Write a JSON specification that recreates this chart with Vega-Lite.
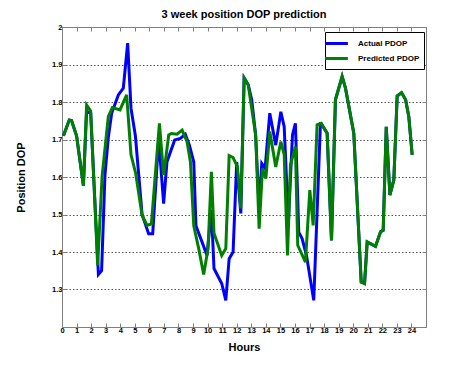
{
  "$schema": "https://vega.github.io/schema/vega-lite/v6.json",
  "autosize": "none",
  "width": 364,
  "height": 300,
  "padding": {"left": 62, "top": 27, "right": 49, "bottom": 41},
  "background": "white",
  "title": {"text": "3 week position DOP prediction", "font": "Liberation Sans", "fontSize": 11, "fontWeight": "bold", "color": "#000", "offset": 3, "anchor": "middle"},
  "config": {
    "view": {"stroke": "#808080", "strokeWidth": 1},
    "font": "Liberation Sans"
  },
  "data": {"values": [
    {"h":0.1,"v":1.71,"s":"Actual PDOP"},{"h":0.5,"v":1.752,"s":"Actual PDOP"},{"h":0.66,"v":1.75,"s":"Actual PDOP"},{"h":1.0,"v":1.71,"s":"Actual PDOP"},{"h":1.47,"v":1.577,"s":"Actual PDOP"},{"h":1.69,"v":1.775,"s":"Actual PDOP"},{"h":1.97,"v":1.77,"s":"Actual PDOP"},{"h":2.5,"v":1.34,"s":"Actual PDOP"},{"h":2.72,"v":1.35,"s":"Actual PDOP"},{"h":2.95,"v":1.605,"s":"Actual PDOP"},{"h":3.18,"v":1.705,"s":"Actual PDOP"},{"h":3.41,"v":1.77,"s":"Actual PDOP"},{"h":3.87,"v":1.819,"s":"Actual PDOP"},{"h":4.21,"v":1.837,"s":"Actual PDOP"},{"h":4.51,"v":1.957,"s":"Actual PDOP"},{"h":4.74,"v":1.783,"s":"Actual PDOP"},{"h":5.04,"v":1.71,"s":"Actual PDOP"},{"h":5.5,"v":1.5,"s":"Actual PDOP"},{"h":5.95,"v":1.449,"s":"Actual PDOP"},{"h":6.23,"v":1.449,"s":"Actual PDOP"},{"h":6.64,"v":1.703,"s":"Actual PDOP"},{"h":6.98,"v":1.529,"s":"Actual PDOP"},{"h":7.21,"v":1.641,"s":"Actual PDOP"},{"h":7.74,"v":1.699,"s":"Actual PDOP"},{"h":8.13,"v":1.703,"s":"Actual PDOP"},{"h":8.47,"v":1.714,"s":"Actual PDOP"},{"h":8.75,"v":1.685,"s":"Actual PDOP"},{"h":9.05,"v":1.64,"s":"Actual PDOP"},{"h":9.2,"v":1.47,"s":"Actual PDOP"},{"h":9.96,"v":1.391,"s":"Actual PDOP"},{"h":10.26,"v":1.512,"s":"Actual PDOP"},{"h":10.44,"v":1.356,"s":"Actual PDOP"},{"h":10.97,"v":1.316,"s":"Actual PDOP"},{"h":11.25,"v":1.271,"s":"Actual PDOP"},{"h":11.48,"v":1.382,"s":"Actual PDOP"},{"h":11.75,"v":1.4,"s":"Actual PDOP"},{"h":12.0,"v":1.64,"s":"Actual PDOP"},{"h":12.28,"v":1.503,"s":"Actual PDOP"},{"h":12.51,"v":1.864,"s":"Actual PDOP"},{"h":12.79,"v":1.846,"s":"Actual PDOP"},{"h":13.03,"v":1.806,"s":"Actual PDOP"},{"h":13.3,"v":1.712,"s":"Actual PDOP"},{"h":13.54,"v":1.516,"s":"Actual PDOP"},{"h":13.72,"v":1.636,"s":"Actual PDOP"},{"h":13.95,"v":1.623,"s":"Actual PDOP"},{"h":14.27,"v":1.77,"s":"Actual PDOP"},{"h":14.68,"v":1.685,"s":"Actual PDOP"},{"h":15.03,"v":1.774,"s":"Actual PDOP"},{"h":15.26,"v":1.734,"s":"Actual PDOP"},{"h":15.55,"v":1.48,"s":"Actual PDOP"},{"h":15.83,"v":1.712,"s":"Actual PDOP"},{"h":16.03,"v":1.743,"s":"Actual PDOP"},{"h":16.26,"v":1.453,"s":"Actual PDOP"},{"h":16.49,"v":1.436,"s":"Actual PDOP"},{"h":16.79,"v":1.391,"s":"Actual PDOP"},{"h":17.29,"v":1.271,"s":"Actual PDOP"},{"h":17.75,"v":1.743,"s":"Actual PDOP"},{"h":17.8,"v":1.743,"s":"Actual PDOP"},{"h":18.21,"v":1.717,"s":"Actual PDOP"},{"h":18.51,"v":1.431,"s":"Actual PDOP"},{"h":18.78,"v":1.806,"s":"Actual PDOP"},{"h":19.24,"v":1.868,"s":"Actual PDOP"},{"h":19.47,"v":1.837,"s":"Actual PDOP"},{"h":20.04,"v":1.717,"s":"Actual PDOP"},{"h":20.55,"v":1.32,"s":"Actual PDOP"},{"h":20.78,"v":1.316,"s":"Actual PDOP"},{"h":20.96,"v":1.427,"s":"Actual PDOP"},{"h":21.53,"v":1.415,"s":"Actual PDOP"},{"h":21.88,"v":1.454,"s":"Actual PDOP"},{"h":22.06,"v":1.458,"s":"Actual PDOP"},{"h":22.27,"v":1.734,"s":"Actual PDOP"},{"h":22.52,"v":1.552,"s":"Actual PDOP"},{"h":22.79,"v":1.592,"s":"Actual PDOP"},{"h":23.02,"v":1.816,"s":"Actual PDOP"},{"h":23.32,"v":1.825,"s":"Actual PDOP"},{"h":23.6,"v":1.806,"s":"Actual PDOP"},{"h":23.82,"v":1.761,"s":"Actual PDOP"},{"h":24.05,"v":1.659,"s":"Actual PDOP"},
    {"h":0.1,"v":1.71,"s":"Predicted PDOP"},{"h":0.5,"v":1.752,"s":"Predicted PDOP"},{"h":0.66,"v":1.75,"s":"Predicted PDOP"},{"h":1.0,"v":1.71,"s":"Predicted PDOP"},{"h":1.47,"v":1.577,"s":"Predicted PDOP"},{"h":1.69,"v":1.792,"s":"Predicted PDOP"},{"h":1.97,"v":1.776,"s":"Predicted PDOP"},{"h":2.45,"v":1.364,"s":"Predicted PDOP"},{"h":2.75,"v":1.6,"s":"Predicted PDOP"},{"h":3.18,"v":1.761,"s":"Predicted PDOP"},{"h":3.46,"v":1.785,"s":"Predicted PDOP"},{"h":3.98,"v":1.779,"s":"Predicted PDOP"},{"h":4.44,"v":1.819,"s":"Predicted PDOP"},{"h":4.74,"v":1.659,"s":"Predicted PDOP"},{"h":5.06,"v":1.61,"s":"Predicted PDOP"},{"h":5.5,"v":1.498,"s":"Predicted PDOP"},{"h":5.84,"v":1.471,"s":"Predicted PDOP"},{"h":6.14,"v":1.475,"s":"Predicted PDOP"},{"h":6.69,"v":1.743,"s":"Predicted PDOP"},{"h":6.98,"v":1.605,"s":"Predicted PDOP"},{"h":7.33,"v":1.712,"s":"Predicted PDOP"},{"h":7.51,"v":1.716,"s":"Predicted PDOP"},{"h":7.9,"v":1.714,"s":"Predicted PDOP"},{"h":8.25,"v":1.725,"s":"Predicted PDOP"},{"h":8.59,"v":1.694,"s":"Predicted PDOP"},{"h":8.82,"v":1.64,"s":"Predicted PDOP"},{"h":9.05,"v":1.47,"s":"Predicted PDOP"},{"h":9.39,"v":1.409,"s":"Predicted PDOP"},{"h":9.73,"v":1.34,"s":"Predicted PDOP"},{"h":10.03,"v":1.409,"s":"Predicted PDOP"},{"h":10.26,"v":1.614,"s":"Predicted PDOP"},{"h":10.44,"v":1.45,"s":"Predicted PDOP"},{"h":10.97,"v":1.391,"s":"Predicted PDOP"},{"h":11.25,"v":1.409,"s":"Predicted PDOP"},{"h":11.48,"v":1.657,"s":"Predicted PDOP"},{"h":11.75,"v":1.652,"s":"Predicted PDOP"},{"h":12.05,"v":1.627,"s":"Predicted PDOP"},{"h":12.28,"v":1.516,"s":"Predicted PDOP"},{"h":12.51,"v":1.864,"s":"Predicted PDOP"},{"h":12.79,"v":1.846,"s":"Predicted PDOP"},{"h":13.3,"v":1.712,"s":"Predicted PDOP"},{"h":13.54,"v":1.462,"s":"Predicted PDOP"},{"h":13.77,"v":1.623,"s":"Predicted PDOP"},{"h":14.0,"v":1.596,"s":"Predicted PDOP"},{"h":14.27,"v":1.721,"s":"Predicted PDOP"},{"h":14.68,"v":1.627,"s":"Predicted PDOP"},{"h":15.03,"v":1.694,"s":"Predicted PDOP"},{"h":15.26,"v":1.66,"s":"Predicted PDOP"},{"h":15.49,"v":1.391,"s":"Predicted PDOP"},{"h":15.69,"v":1.632,"s":"Predicted PDOP"},{"h":16.03,"v":1.681,"s":"Predicted PDOP"},{"h":16.19,"v":1.418,"s":"Predicted PDOP"},{"h":16.72,"v":1.373,"s":"Predicted PDOP"},{"h":17.02,"v":1.565,"s":"Predicted PDOP"},{"h":17.25,"v":1.471,"s":"Predicted PDOP"},{"h":17.52,"v":1.739,"s":"Predicted PDOP"},{"h":17.8,"v":1.743,"s":"Predicted PDOP"},{"h":18.21,"v":1.717,"s":"Predicted PDOP"},{"h":18.51,"v":1.431,"s":"Predicted PDOP"},{"h":18.78,"v":1.806,"s":"Predicted PDOP"},{"h":19.24,"v":1.868,"s":"Predicted PDOP"},{"h":19.47,"v":1.837,"s":"Predicted PDOP"},{"h":20.04,"v":1.717,"s":"Predicted PDOP"},{"h":20.55,"v":1.32,"s":"Predicted PDOP"},{"h":20.78,"v":1.316,"s":"Predicted PDOP"},{"h":20.96,"v":1.427,"s":"Predicted PDOP"},{"h":21.53,"v":1.415,"s":"Predicted PDOP"},{"h":21.88,"v":1.454,"s":"Predicted PDOP"},{"h":22.06,"v":1.458,"s":"Predicted PDOP"},{"h":22.27,"v":1.734,"s":"Predicted PDOP"},{"h":22.52,"v":1.552,"s":"Predicted PDOP"},{"h":22.79,"v":1.592,"s":"Predicted PDOP"},{"h":23.02,"v":1.816,"s":"Predicted PDOP"},{"h":23.32,"v":1.825,"s":"Predicted PDOP"},{"h":23.6,"v":1.806,"s":"Predicted PDOP"},{"h":23.82,"v":1.761,"s":"Predicted PDOP"},{"h":24.05,"v":1.659,"s":"Predicted PDOP"}
  ]},
  "layer": [
    {
      "mark": {"type": "line", "strokeWidth": 3, "clip": true},
      "encoding": {
        "x": {"field": "h", "type": "quantitative",
          "scale": {"domain": [0, 25], "nice": false, "zero": false},
          "axis": {"orient": "bottom", "title": "Hours", "values": [0,1,2,3,4,5,6,7,8,9,10,11,12,13,14,15,16,17,18,19,20,21,22,23,24],
            "grid": false, "tickSize": -4, "tickColor": "#808080", "domainColor": "#808080",
            "labelFont": "Liberation Sans", "labelFontSize": 7.5, "labelFontWeight": "bold", "labelColor": "#000", "labelPadding": 3, "labelFlush": false,
            "titleFont": "Liberation Sans", "titleFontSize": 11, "titleFontWeight": "bold", "titleColor": "#000", "titlePadding": 8}},
        "y": {"field": "v", "type": "quantitative",
          "scale": {"domain": [1.2, 2], "nice": false, "zero": false},
          "axis": {"orient": "left", "title": "Position DOP", "values": [1.3,1.4,1.5,1.6,1.7,1.8,1.9,2.0], "format": ".1~f",
            "grid": true, "gridDash": [1.5, 2], "gridColor": "#555", "gridWidth": 1, "gridOpacity": 1,
            "tickSize": -4, "tickColor": "#808080", "domainColor": "#808080",
            "labelFont": "Liberation Sans", "labelFontSize": 7.5, "labelFontWeight": "bold", "labelColor": "#000", "labelPadding": 4,
            "titleFont": "Liberation Sans", "titleFontSize": 11, "titleFontWeight": "bold", "titleColor": "#000", "titlePadding": 25}},
        "color": {"field": "s", "type": "nominal",
          "scale": {"domain": ["Actual PDOP", "Predicted PDOP"], "range": ["#0000FF", "#008000"]},
          "legend": {"title": null, "orient": "none", "legendX": 263, "legendY": 5,
            "symbolType": "M-1.9,0L1.9,0", "symbolSize": 144, "symbolStrokeWidth": 3,
            "labelFont": "Liberation Sans", "labelFontSize": 8, "labelFontWeight": "bold", "labelColor": "#000",
            "strokeColor": "#000", "fillColor": "#fff", "padding": 4, "rowPadding": 1, "labelOffset": 14, "offset": 0}}
      }
    },
    {
      "mark": {"type": "line", "strokeOpacity": 0},
      "encoding": {
        "x": {"field": "h", "type": "quantitative",
          "axis": {"orient": "top", "title": null, "labels": false, "values": [0,1,2,3,4,5,6,7,8,9,10,11,12,13,14,15,16,17,18,19,20,21,22,23,24],
            "grid": false, "tickSize": -4, "tickColor": "#808080", "domainColor": "#808080"}},
        "y": {"field": "v", "type": "quantitative",
          "axis": {"orient": "right", "title": null, "labels": false, "values": [1.3,1.4,1.5,1.6,1.7,1.8,1.9,2.0],
            "grid": false, "tickSize": -4, "tickColor": "#808080", "domainColor": "#808080"}},
        "detail": {"field": "s", "type": "nominal"}
      }
    }
  ],
  "resolve": {"axis": {"x": "independent", "y": "independent"}}
}
